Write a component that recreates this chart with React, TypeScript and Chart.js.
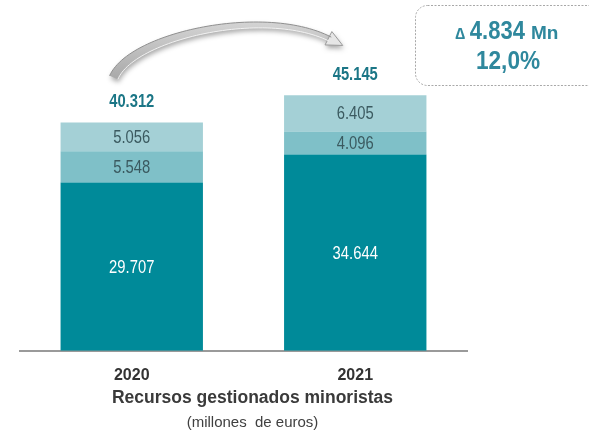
import React, { useEffect, useRef } from "react";
import { Chart, registerables } from "chart.js";

Chart.register(...registerables);

const categories = ["2020", "2021"];
const baseValues = [29707, 34644];
const middleValues = [5548, 4096];
const topValues = [5056, 6405];
const totals = [40312, 45145];
const deltaValue = "4.834";
const deltaPct = "12,0%";
const axisTitle = "Recursos gestionados minoristas";
const axisSubtitle = "(millones  de euros)";

const FONT = "'Liberation Sans', Arial, sans-serif";

const fmt = (v: number) => v.toLocaleString("de-DE");

function txt(ctx: any, s: string, x: number, y: number, font: string, color: string, sx = 1) {
  ctx.save();
  ctx.font = font;
  ctx.fillStyle = color;
  ctx.translate(x, y);
  ctx.scale(sx, 1);
  ctx.fillText(s, 0, 0);
  ctx.restore();
}

const labelPlugin = {
  id: "valueLabels",
  afterDatasetsDraw(chart: any) {
    const ctx = chart.ctx;
    ctx.save();
    ctx.textAlign = "center";
    ctx.textBaseline = "middle";
    const colors = ["#ffffff", "#3b5a60", "#3b5a60"];
    chart.data.datasets.forEach((ds: any, i: number) => {
      const meta = chart.getDatasetMeta(i);
      meta.data.forEach((bar: any, j: number) => {
        const cy = (bar.y + bar.base) / 2;
        txt(ctx, fmt(ds.data[j]), bar.x, cy + 1, `18.5px ${FONT}`, colors[i], 0.8);
      });
    });
    const last = chart.getDatasetMeta(chart.data.datasets.length - 1);
    last.data.forEach((bar: any, j: number) => {
      txt(ctx, fmt(totals[j]), bar.x, bar.y - 20, `bold 18px ${FONT}`, "#1b7686", 0.82);
    });

    // axis title + subtitle
    const ca = chart.chartArea;
    const cx = (ca.left + ca.right) / 2 + 9;
    txt(ctx, axisTitle, cx, 398, `bold 17.5px ${FONT}`, "#3a3a3a");
    txt(ctx, axisSubtitle, cx, 423, `15px ${FONT}`, "#404040");

    // curved arrow between totals
    const b0 = last.data[0];
    const b1 = last.data[1];
    const P0 = { x: b0.x - 18, y: b0.y - 45 };
    const P3 = { x: b1.x - 25, y: b1.y - 56 };
    const P1 = { x: P0.x + 18, y: P0.y - 42 };
    const P2 = { x: P3.x - 65, y: P3.y - 33 };
    const bez = (t: number) => {
      const u = 1 - t;
      return {
        x: u * u * u * P0.x + 3 * u * u * t * P1.x + 3 * u * t * t * P2.x + t * t * t * P3.x,
        y: u * u * u * P0.y + 3 * u * u * t * P1.y + 3 * u * t * t * P2.y + t * t * t * P3.y,
      };
    };
    const der = (t: number) => {
      const u = 1 - t;
      return {
        x: 3 * u * u * (P1.x - P0.x) + 6 * u * t * (P2.x - P1.x) + 3 * t * t * (P3.x - P2.x),
        y: 3 * u * u * (P1.y - P0.y) + 6 * u * t * (P2.y - P1.y) + 3 * t * t * (P3.y - P2.y),
      };
    };
    const left: any[] = [];
    const right: any[] = [];
    const N = 60;
    for (let k = 0; k <= N; k++) {
      const t = k / N;
      const p = bez(t);
      const d = der(t);
      const len = Math.hypot(d.x, d.y) || 1;
      const nx = -d.y / len;
      const ny = d.x / len;
      const w = (9 - 4.5 * t) / 2;
      left.push({ x: p.x + nx * w, y: p.y + ny * w });
      right.push({ x: p.x - nx * w, y: p.y - ny * w });
    }
    ctx.save();
    ctx.shadowColor = "rgba(0,0,0,0.35)";
    ctx.shadowBlur = 5;
    ctx.shadowOffsetX = 1;
    ctx.shadowOffsetY = 3;
    ctx.beginPath();
    ctx.moveTo(left[0].x, left[0].y);
    left.forEach((p) => ctx.lineTo(p.x, p.y));
    for (let k = right.length - 1; k >= 0; k--) ctx.lineTo(right[k].x, right[k].y);
    ctx.closePath();
    const g = ctx.createLinearGradient(0, 15, 0, 80);
    g.addColorStop(0, "#d9d9d9");
    g.addColorStop(1, "#a8a8a8");
    ctx.fillStyle = g;
    ctx.fill();
    const e = bez(1);
    const de = der(1);
    const dl = Math.hypot(de.x, de.y);
    const ux = de.x / dl;
    const uy = de.y / dl;
    const nx = -uy;
    const ny = ux;
    const head = () => {
      ctx.beginPath();
      ctx.moveTo(e.x + ux * 14, e.y + uy * 14);
      ctx.lineTo(e.x + nx * 7.5 - ux * 2, e.y + ny * 7.5 - uy * 2);
      ctx.lineTo(e.x - nx * 7.5 - ux * 2, e.y - ny * 7.5 - uy * 2);
      ctx.closePath();
    };
    head();
    ctx.fillStyle = "#e6e6e6";
    ctx.fill();
    ctx.restore();
    head();
    ctx.strokeStyle = "#9a9a9a";
    ctx.lineWidth = 1;
    ctx.stroke();
    ctx.beginPath();
    right.forEach((p, k) => (k ? ctx.lineTo(p.x, p.y) : ctx.moveTo(p.x, p.y)));
    ctx.strokeStyle = "#8f8f8f";
    ctx.stroke();
    ctx.beginPath();
    left.forEach((p, k) => (k ? ctx.lineTo(p.x, p.y) : ctx.moveTo(p.x, p.y)));
    ctx.strokeStyle = "#f2f2f2";
    ctx.stroke();

    // delta box
    ctx.save();
    ctx.setLineDash([2, 1.5]);
    ctx.strokeStyle = "#a8a8a8";
    ctx.lineWidth = 1;
    ctx.beginPath();
    ctx.roundRect(415.5, 5.5, 220, 80, 12);
    ctx.stroke();
    ctx.restore();

    const boxColor = "#2f889d";
    ctx.textBaseline = "alphabetic";
    ctx.textAlign = "left";
    const f1 = `bold 16px ${FONT}`;
    const f2 = `bold 25px ${FONT}`;
    const f3 = `bold 19px ${FONT}`;
    const s2 = 0.88;
    ctx.font = f1;
    const w1 = ctx.measureText("\u2206 ").width;
    ctx.font = f2;
    const w2 = ctx.measureText(deltaValue + " ").width * s2;
    ctx.font = f3;
    const w3 = ctx.measureText("Mn").width;
    let x = 507 - (w1 + w2 + w3) / 2;
    txt(ctx, "\u2206 ", x, 39, f1, boxColor);
    x += w1;
    txt(ctx, deltaValue + " ", x, 39, f2, boxColor, s2);
    x += w2;
    txt(ctx, "Mn", x, 39, f3, boxColor);
    ctx.textAlign = "center";
    txt(ctx, deltaPct, 508, 69, `bold 26px ${FONT}`, boxColor, 0.87);
    ctx.restore();
  },
};

export default function App() {
  const ref = useRef<HTMLCanvasElement | null>(null);
  useEffect(() => {
    document.body.style.margin = "0";
    const canvas = ref.current;
    if (!canvas) return;
    const chart = new Chart(canvas, {
      type: "bar",
      data: {
        labels: categories,
        datasets: [
          { label: "base", data: baseValues, backgroundColor: "#008a99", borderWidth: 0 },
          { label: "middle", data: middleValues, backgroundColor: "#7fc0c8", borderWidth: 0 },
          { label: "top", data: topValues, backgroundColor: "#a4d0d6", borderWidth: 0 },
        ],
      },
      options: {
        responsive: false,
        animation: false,
        maintainAspectRatio: false,
        layout: { padding: { left: 20, right: 122, top: 11, bottom: 31 } },
        datasets: { bar: { barPercentage: 0.637, categoryPercentage: 1 } },
        plugins: { legend: { display: false }, tooltip: { enabled: false }, title: { display: false } },
        scales: {
          x: {
            stacked: true,
            grid: { display: false, drawTicks: false },
            border: { display: true, color: "#9a9a9a", width: 2 },
            ticks: { color: "#333333", font: { family: FONT, size: 16, weight: "bold" }, padding: 15 },
          },
          y: { stacked: true, display: false, min: 0, max: 60000 },
        },
      },
      plugins: [labelPlugin],
    });
    return () => chart.destroy();
  }, []);
  return (
    <div style={{ width: 589, height: 431 }}>
      <canvas ref={ref} width={589} height={431} />
    </div>
  );
}
